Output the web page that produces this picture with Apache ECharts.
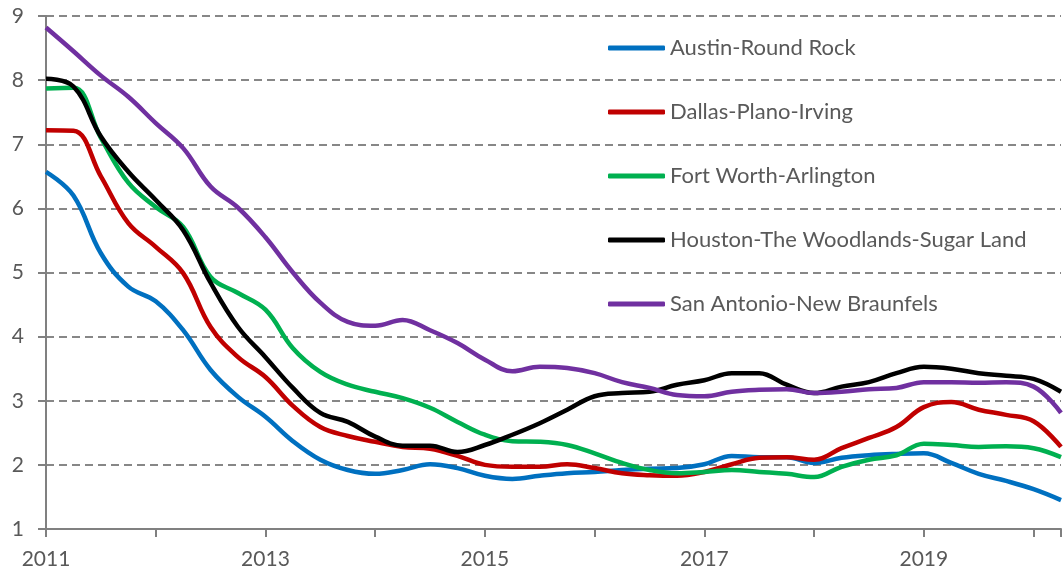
<!DOCTYPE html>
<html>
<head>
<meta charset="utf-8">
<script src="https://cdn.jsdelivr.net/npm/echarts@6/dist/echarts.min.js"></script>
<style>
  html, body { margin: 0; padding: 0; background: #fff; }
  #chart { width: 1064px; height: 573px; }
</style>
</head>
<body>
<div id="chart"></div>
<script>
// quarterly readings, 2011 Q1 .. 2020 Q2
const dates = [2011, 2011.25, 2011.5, 2011.75, 2012, 2012.25, 2012.5, 2012.75,
  2013, 2013.25, 2013.5, 2013.75, 2014, 2014.25, 2014.5, 2014.75,
  2015, 2015.25, 2015.5, 2015.75, 2016, 2016.25, 2016.5, 2016.75,
  2017, 2017.25, 2017.5, 2017.75, 2018, 2018.25, 2018.5, 2018.75,
  2019, 2019.25, 2019.5, 2019.75, 2020, 2020.25]

const austin = [6.57, 6.2, 5.3, 4.78, 4.55, 4.1, 3.48, 3.06,
  2.75, 2.37, 2.08, 1.92, 1.86, 1.92, 2.01, 1.95,
  1.83, 1.78, 1.83, 1.87, 1.89, 1.92, 1.94, 1.95,
  2.01, 2.14, 2.12, 2.12, 2.03, 2.11, 2.15, 2.17,
  2.18, 2.03, 1.86, 1.75, 1.62, 1.45]
const dallas = [7.22, 7.21, 6.5, 5.77, 5.4, 4.99, 4.15, 3.68,
  3.37, 2.92, 2.59, 2.45, 2.36, 2.28, 2.25, 2.14,
  2.0, 1.97, 1.97, 2.01, 1.95, 1.87, 1.84, 1.83,
  1.89, 2.01, 2.11, 2.12, 2.08, 2.26, 2.42, 2.59,
  2.9, 2.98, 2.86, 2.78, 2.68, 2.28]
const fortWorth = [7.87, 7.88, 7.1, 6.4, 6.02, 5.71, 4.93, 4.68,
  4.42, 3.82, 3.45, 3.25, 3.14, 3.04, 2.89, 2.67,
  2.47, 2.37, 2.36, 2.31, 2.18, 2.03, 1.92, 1.87,
  1.89, 1.92, 1.89, 1.86, 1.81, 1.97, 2.08, 2.15,
  2.33, 2.31, 2.28, 2.29, 2.26, 2.12]
const houston = [8.02, 7.9, 7.12, 6.57, 6.13, 5.66, 4.84, 4.15,
  3.68, 3.2, 2.81, 2.67, 2.44, 2.3, 2.3, 2.2,
  2.31, 2.47, 2.65, 2.86, 3.07, 3.12, 3.14, 3.25,
  3.32, 3.43, 3.43, 3.25, 3.12, 3.22, 3.29, 3.43,
  3.53, 3.5, 3.43, 3.39, 3.34, 3.14]
const sanAntonio = [8.82, 8.45, 8.07, 7.74, 7.33, 6.94, 6.34, 6.01,
  5.55, 5.0, 4.53, 4.23, 4.17, 4.26, 4.1, 3.9,
  3.64, 3.46, 3.53, 3.51, 3.43, 3.29, 3.2, 3.09,
  3.07, 3.14, 3.17, 3.18, 3.12, 3.14, 3.18, 3.2,
  3.29, 3.29, 3.28, 3.29, 3.22, 2.81]

const names = ['Austin-Round Rock', 'Dallas-Plano-Irving', 'Fort Worth-Arlington',
  'Houston-The Woodlands-Sugar Land', 'San Antonio-New Braunfels']
const colors = ['#0070C0', '#C00000', '#00B050', '#000000', '#7030A0']
const values = [austin, dallas, fortWorth, houston, sanAntonio]

const font = 'Lato'
const textColor = '#595959'

let chartInstance = echarts.init(document.getElementById('chart'))
const option = {
  animation: false,
  backgroundColor: '#fff',
  grid: { left: 46, right: 0, top: 16, bottom: 44 },
  legend: {
    orient: 'vertical',
    left: 603,
    top: 32,
    icon: 'roundRect',
    itemWidth: 57,
    itemHeight: 5,
    itemGap: 42,
    textStyle: { fontFamily: font, fontSize: 22, color: textColor, lineHeight: 22 },
    data: names
  },
  xAxis: {
    type: 'value',
    min: 2011,
    max: 2020.25,
    interval: 1,
    axisLine: { lineStyle: { color: '#808080', width: 2 } },
    axisTick: { show: true, length: 8, lineStyle: { color: '#808080', width: 2 } },
    splitLine: { show: false },
    axisLabel: {
      fontFamily: font, fontSize: 21, color: textColor, margin: 20,
      formatter: v => (Number.isInteger(v) && (v - 2011) % 2 === 0) ? String(v) : ''
    }
  },
  yAxis: {
    type: 'value',
    min: 1,
    max: 9,
    interval: 1,
    axisLine: { show: true, lineStyle: { color: '#808080', width: 2 } },
    axisTick: { show: true, length: 8, lineStyle: { color: '#808080', width: 2 } },
    splitLine: { lineStyle: { color: '#878787', width: 2, type: [8, 5] } },
    axisLabel: { fontFamily: font, fontSize: 21, color: textColor, margin: 22 }
  },
  series: names.map((name, i) => ({
    name: name,
    type: 'line',
    data: dates.map((d, j) => [d, values[i][j]]),
    smooth: 0.4,
    symbol: 'none',
    lineStyle: { color: colors[i], width: 4.5 },
    itemStyle: { color: colors[i] }
  }))
}
chartInstance.setOption(option)
</script>
</body>
</html>
